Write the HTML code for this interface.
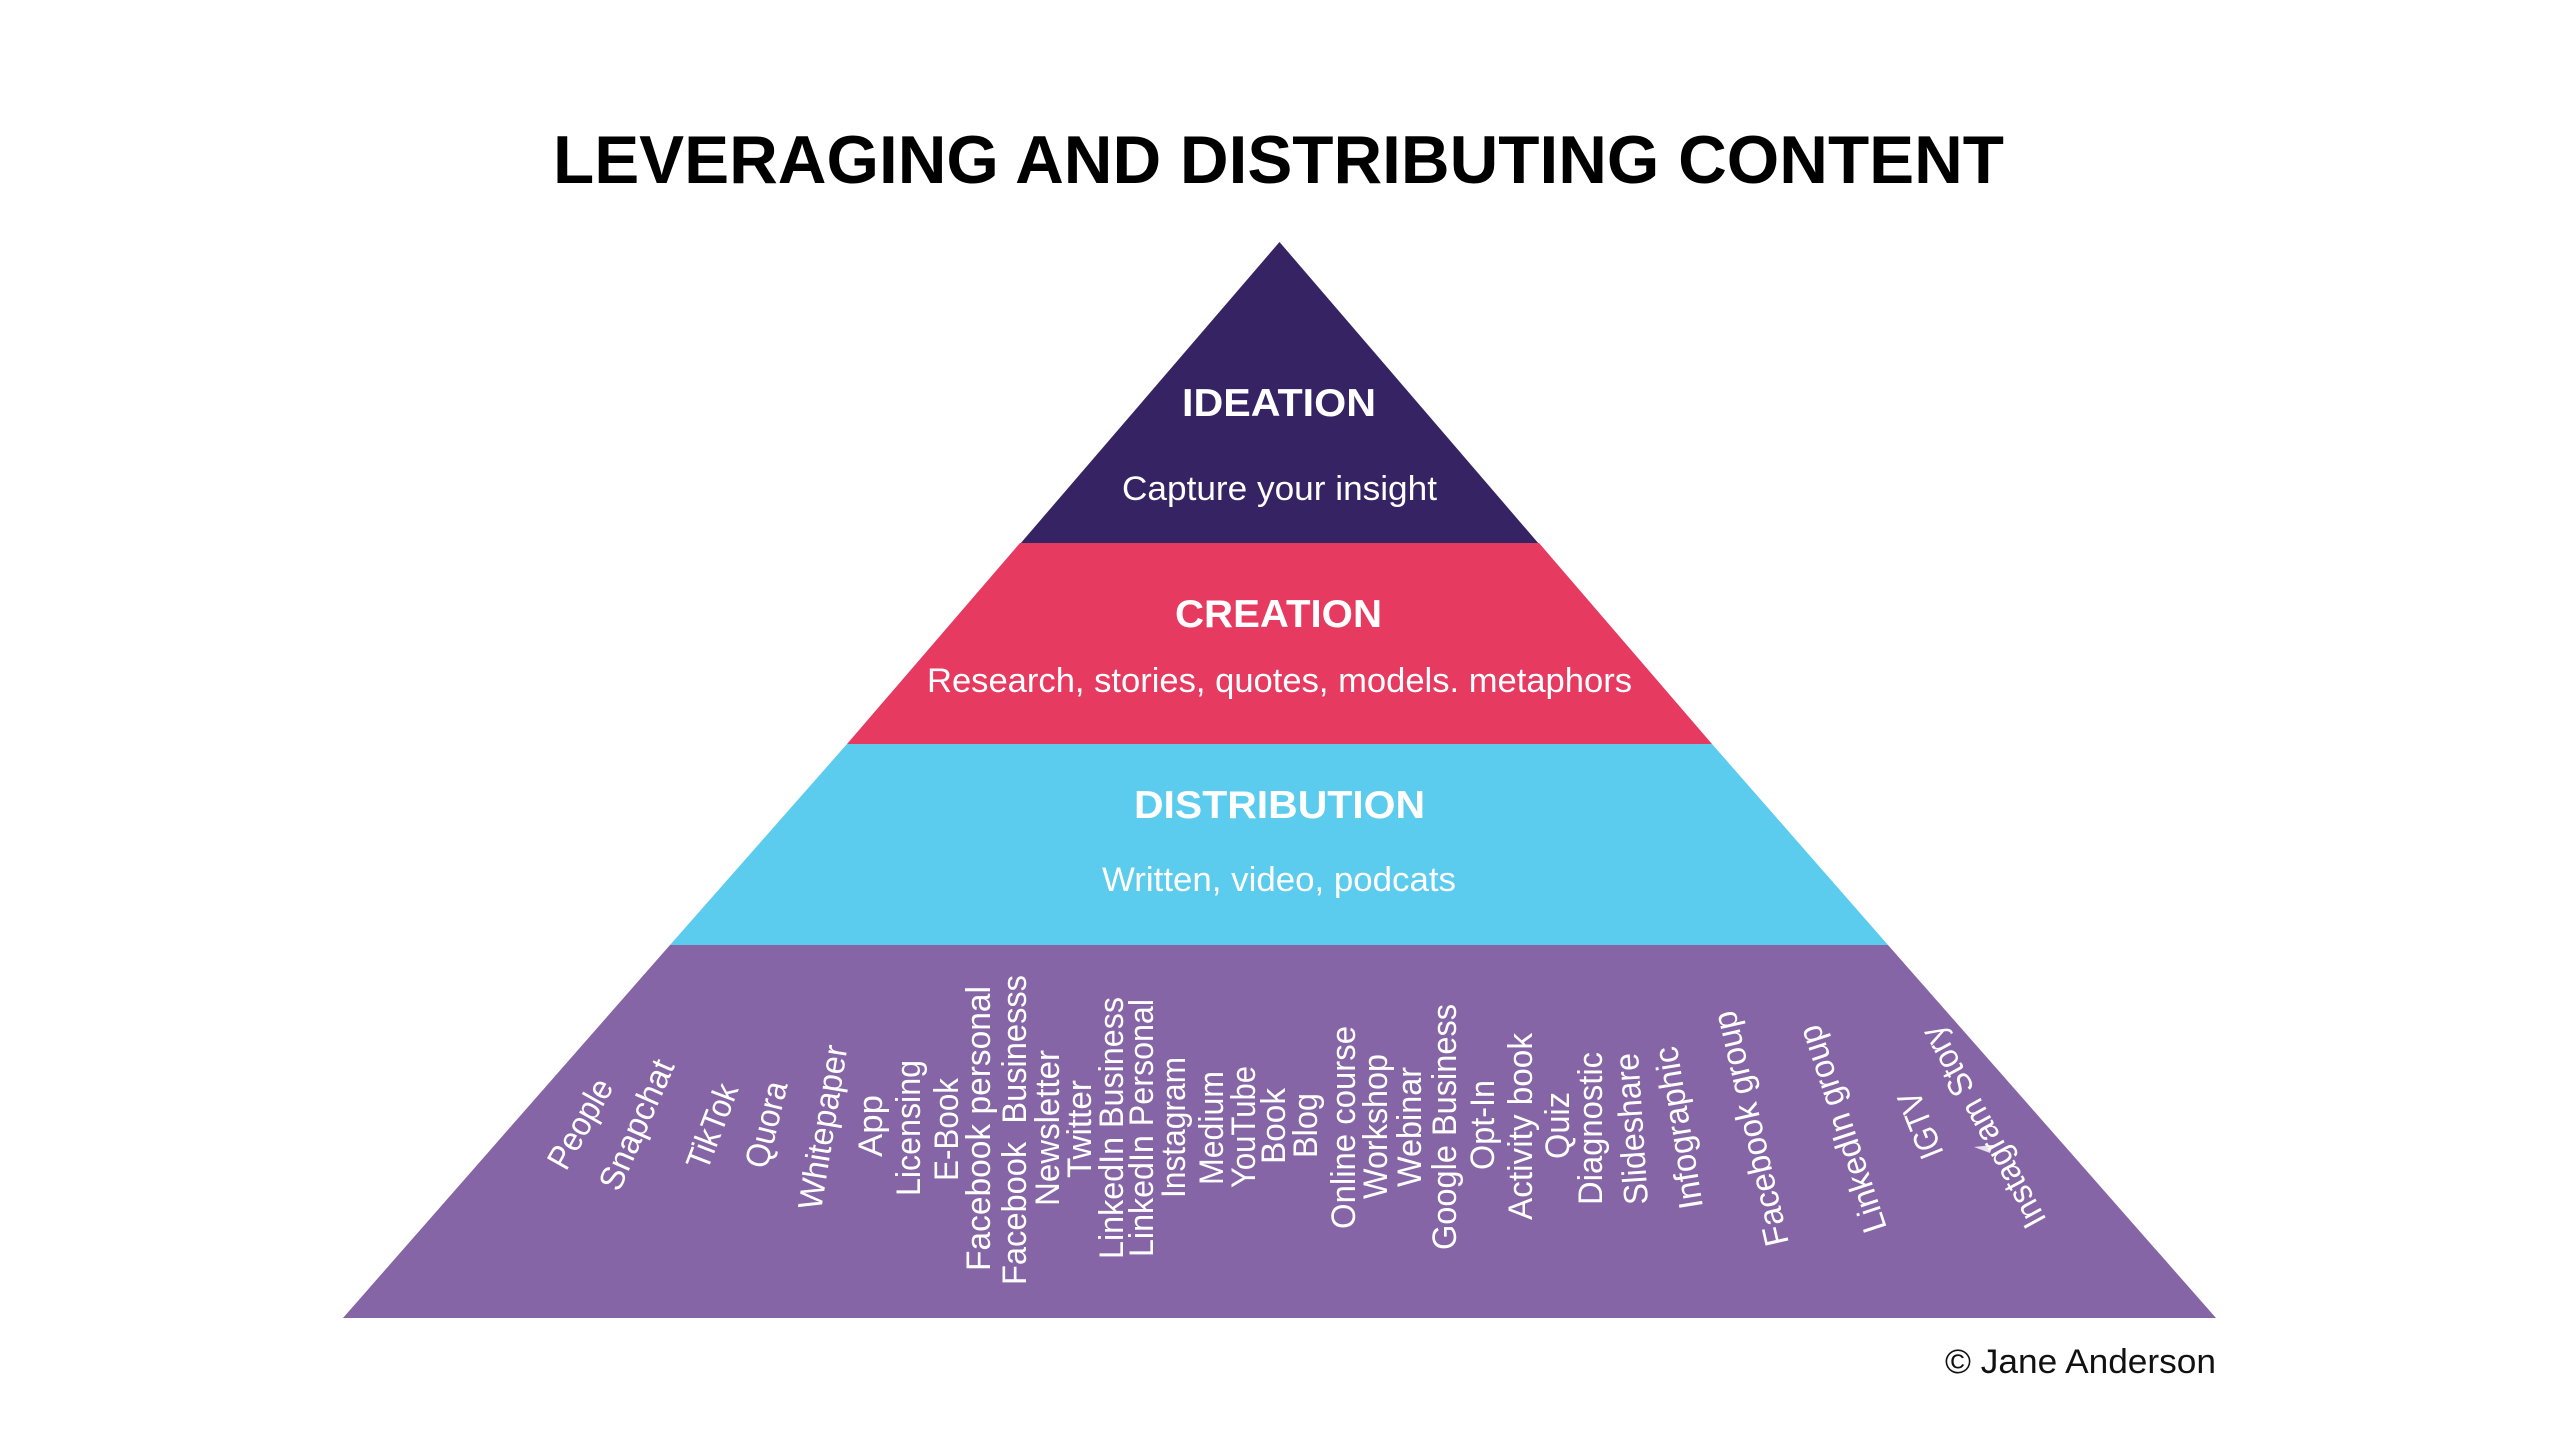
<!DOCTYPE html>
<html lang="en">
<head>
<meta charset="utf-8">
<title>Leveraging and Distributing Content</title>
<style>
html,body{margin:0;padding:0;background:#fff;width:2559px;height:1440px;overflow:hidden}
svg{display:block}
text{font-family:"Liberation Sans",sans-serif}
.l text{fill:#fff;font-size:34px}
</style>
</head>
<body>
<svg width="2559" height="1440" viewBox="0 0 2559 1440" xmlns="http://www.w3.org/2000/svg">
<rect width="2559" height="1440" fill="#fff"/>
<polygon points="1279.5,242 1539,544 1020,544" fill="#352364"/>
<polygon points="1020,543 1539,543 1712,744 847,744" fill="#E73A60"/>
<polygon points="847,744 1712,744 1888,945 670,945" fill="#5BCBEE"/>
<polygon points="670,945 1888,945 2216,1318 343,1318" fill="#8565A5"/>

<text x="553" y="183" font-size="68" font-weight="700" fill="#000" textLength="1451" lengthAdjust="spacingAndGlyphs">LEVERAGING AND DISTRIBUTING CONTENT</text>

<g fill="#fff">
<text x="1182" y="416" font-size="39" font-weight="700" textLength="194" lengthAdjust="spacingAndGlyphs">IDEATION</text>
<text x="1122" y="500" font-size="34" textLength="315" lengthAdjust="spacingAndGlyphs">Capture your insight</text>
<text x="1175" y="627" font-size="39" font-weight="700" textLength="207" lengthAdjust="spacingAndGlyphs">CREATION</text>
<text x="927" y="692" font-size="34" textLength="705" lengthAdjust="spacingAndGlyphs">Research, stories, quotes, models. metaphors</text>
<text x="1134" y="818" font-size="39" font-weight="700" textLength="291" lengthAdjust="spacingAndGlyphs">DISTRIBUTION</text>
<text x="1102" y="891" font-size="34" textLength="354" lengthAdjust="spacingAndGlyphs">Written, video, podcats</text>
</g>

<g class="l">
<text transform="translate(566,1172) rotate(-60.5)" textLength="98" lengthAdjust="spacingAndGlyphs">People</text>
<text transform="translate(619,1193) rotate(-66.2)" textLength="139" lengthAdjust="spacingAndGlyphs">Snapchat</text>
<text transform="translate(707,1172) rotate(-69)" textLength="89" lengthAdjust="spacingAndGlyphs">TikTok</text>
<text transform="translate(767,1170) rotate(-76.3)" textLength="88" lengthAdjust="spacingAndGlyphs">Quora</text>
<text transform="translate(821,1211) rotate(-80.8)" textLength="166" lengthAdjust="spacingAndGlyphs">Whitepaper</text>
<text transform="translate(882,1157) rotate(-90)" textLength="62" lengthAdjust="spacingAndGlyphs">App</text>
<text transform="translate(920,1196) rotate(-90)" textLength="136" lengthAdjust="spacingAndGlyphs">Licensing</text>
<text transform="translate(958,1181) rotate(-90)" textLength="103" lengthAdjust="spacingAndGlyphs">E-Book</text>
<text transform="translate(990,1271) rotate(-90)" textLength="285" lengthAdjust="spacingAndGlyphs">Facebook personal</text>
<text transform="translate(1026,1285) rotate(-90)" textLength="310" lengthAdjust="spacingAndGlyphs">Facebook&#160;&#160;Businesss</text>
<text transform="translate(1059,1206) rotate(-90)" textLength="156" lengthAdjust="spacingAndGlyphs">Newsletter</text>
<text transform="translate(1091,1178) rotate(-90)" textLength="98" lengthAdjust="spacingAndGlyphs">Twitter</text>
<text transform="translate(1123,1259) rotate(-90)" textLength="262" lengthAdjust="spacingAndGlyphs">LinkedIn Business</text>
<text transform="translate(1153,1257) rotate(-90)" textLength="258" lengthAdjust="spacingAndGlyphs">LinkedIn Personal</text>
<text transform="translate(1185,1198) rotate(-90)" textLength="141" lengthAdjust="spacingAndGlyphs">Instagram</text>
<text transform="translate(1223,1185) rotate(-90)" textLength="114" lengthAdjust="spacingAndGlyphs">Medium</text>
<text transform="translate(1255,1188) rotate(-90)" textLength="122" lengthAdjust="spacingAndGlyphs">YouTube</text>
<text transform="translate(1285,1164) rotate(-90)" textLength="76" lengthAdjust="spacingAndGlyphs">Book</text>
<text transform="translate(1317,1158) rotate(-90)" textLength="65" lengthAdjust="spacingAndGlyphs">Blog</text>
<text transform="translate(1355,1229) rotate(-90)" textLength="203" lengthAdjust="spacingAndGlyphs">Online course</text>
<text transform="translate(1387,1199) rotate(-90)" textLength="145" lengthAdjust="spacingAndGlyphs">Workshop</text>
<text transform="translate(1421,1187) rotate(-90)" textLength="120" lengthAdjust="spacingAndGlyphs">Webinar</text>
<text transform="translate(1456,1250) rotate(-90)" textLength="246" lengthAdjust="spacingAndGlyphs">Google Business</text>
<text transform="translate(1494,1170) rotate(-90)" textLength="90" lengthAdjust="spacingAndGlyphs">Opt-In</text>
<text transform="translate(1532,1220) rotate(-90)" textLength="187" lengthAdjust="spacingAndGlyphs">Activity book</text>
<text transform="translate(1569,1159) rotate(-90)" textLength="67" lengthAdjust="spacingAndGlyphs">Quiz</text>
<text transform="translate(1602,1205) rotate(-90)" textLength="153" lengthAdjust="spacingAndGlyphs">Diagnostic</text>
<text transform="translate(1648,1204) rotate(-93.8)" textLength="152" lengthAdjust="spacingAndGlyphs">Slideshare</text>
<text transform="translate(1703,1207) rotate(-99.2)" textLength="164" lengthAdjust="spacingAndGlyphs">Infographic</text>
<text transform="translate(1789,1243) rotate(-103)" textLength="240" lengthAdjust="spacingAndGlyphs">Facebook group</text>
<text transform="translate(1887,1228) rotate(-108.3)" textLength="216" lengthAdjust="spacingAndGlyphs">LinkedIn group</text>
<text transform="translate(1944,1153) rotate(-111.8)" textLength="69" lengthAdjust="spacingAndGlyphs">IGTV</text>
<text transform="translate(2047,1220) rotate(-118.6)" textLength="224" lengthAdjust="spacingAndGlyphs">Instagram Story</text>
<polygon points="1974,1147 1993,1145 1990,1153" fill="#fff" opacity="0.8"/>
</g>

<text x="1945" y="1373" font-size="34" fill="#111" textLength="271" lengthAdjust="spacingAndGlyphs">© Jane Anderson</text>
</svg>
</body>
</html>
